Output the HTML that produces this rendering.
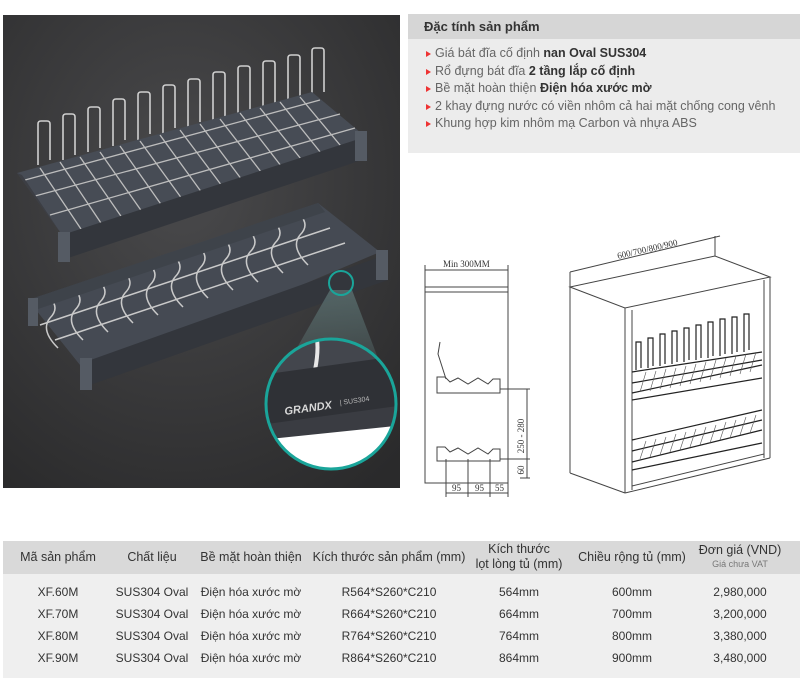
<!DOCTYPE html>
<html><head><meta charset="utf-8"><style>
body{margin:0;width:800px;height:680px;background:#fff;position:relative;overflow:hidden;font-family:"Liberation Sans",sans-serif;color:#333}
.abs{position:absolute}
.feat{left:408px;top:14px;width:392px;height:139px;background:#ececec}
.feat .h{height:25px;background:#d6d6d6;font-weight:bold;font-size:13px;line-height:25px;padding-left:16px;color:#333}
.feat ul{list-style:none;margin:6px 0 0 0;padding:0 0 0 27px;font-size:12.5px;color:#666;line-height:17.5px}
.feat li{position:relative;white-space:nowrap}
.feat li:before{content:"";position:absolute;left:-9px;top:6px;border-left:5px solid #e33;border-top:3px solid transparent;border-bottom:3px solid transparent}
.feat b{color:#333}
.th{left:3px;top:541px;width:797px;height:33px;background:#d9d9d9}
.tb{left:3px;top:574px;width:797px;height:104px;background:#efefef}
.c{position:absolute;transform:translateX(-50%);white-space:nowrap;font-size:12px;color:#333;text-align:center}
.hd{font-size:12.5px;color:#333}
</style></head><body>

<svg class="abs" style="left:3px;top:15px" width="397" height="473" viewBox="3 15 397 473">
<defs>
<radialGradient id="bg" cx="0.45" cy="0.35" r="0.8"><stop offset="0" stop-color="#4a4a4c"/><stop offset="1" stop-color="#2a2a2b"/></radialGradient>
<linearGradient id="beam" x1="0" y1="0" x2="0" y2="1"><stop offset="0" stop-color="#5f7878" stop-opacity="0.7"/><stop offset="1" stop-color="#5f7878" stop-opacity="0.1"/></linearGradient>
<clipPath id="cc"><circle cx="331" cy="404" r="65"/></clipPath>
</defs>
<rect x="3" y="15" width="397" height="473" fill="url(#bg)"/>
<!-- top rack -->
<g stroke="#cfcfcf" stroke-width="1.6" fill="none" stroke-linejoin="round">
<path d="M38 165 V124 q0 -3 3 -3 h6 q3 0 3 3 V160 M63 160 V117 q0 -3 3 -3 h6 q3 0 3 3 V155 M88 152 V110 q0 -3 3 -3 h6 q3 0 3 3 V148 M113 146 V102 q0 -3 3 -3 h6 q3 0 3 3 V140 M138 140 V95 q0 -3 3 -3 h6 q3 0 3 3 V134 M163 134 V88 q0 -3 3 -3 h6 q3 0 3 3 V128 M188 128 V82 q0 -3 3 -3 h6 q3 0 3 3 V122 M213 122 V75 q0 -3 3 -3 h6 q3 0 3 3 V116 M238 116 V69 q0 -3 3 -3 h6 q3 0 3 3 V110 M263 110 V64 q0 -3 3 -3 h6 q3 0 3 3 V104 M288 104 V58 q0 -3 3 -3 h6 q3 0 3 3 V98 M312 98 V51 q0 -3 3 -3 h6 q3 0 3 3 V92"/>
</g>
<polygon points="17,173 312,92 367,138 68,243" fill="#474c55"/>
<g stroke="#bdbdbd" stroke-width="1.3">
<path d="M40 168 L85 235 M60 162 L105 229 M80 157 L125 222 M100 152 L145 216 M120 146 L165 210 M140 141 L185 203 M160 135 L205 197 M180 130 L225 190 M200 124 L245 184 M220 119 L265 177 M240 113 L285 171 M260 108 L305 164 M280 102 L325 158 M300 97 L345 151"/>
<path d="M25 180 L320 100 M35 196 L340 114 M50 215 L355 128"/>
</g>
<polygon points="17,173 22,175 72,250 68,243" fill="#3c3e44"/>
<polygon points="62,235 365,137 368,158 68,258" fill="#33363c"/>
<rect x="355" y="131" width="12" height="30" fill="#555b64"/>
<rect x="58" y="232" width="12" height="30" fill="#555b64"/>
<!-- bottom rack -->
<polygon points="28,300 318,203 380,252 88,375" fill="#454a53"/>
<g stroke="#c9c9c9" stroke-width="1.5" fill="none">
<path d="M50 298 q10 10 0 20 q-10 12 8 30 M75 290 q10 10 0 20 q-10 12 8 30 M100 282 q10 10 0 20 q-10 12 8 30 M125 273 q10 10 0 20 q-10 12 8 30 M150 265 q10 10 0 20 q-10 12 8 30 M175 257 q10 10 0 20 q-10 12 8 30 M200 248 q10 10 0 20 q-10 12 8 30 M225 240 q10 10 0 20 q-10 12 8 30 M250 232 q10 10 0 20 q-10 12 8 30 M275 223 q10 10 0 20 q-10 12 8 30 M300 215 q10 10 0 20 q-10 12 8 30"/>
<path d="M40 325 L330 228 M55 340 L345 243"/>
</g>
<polygon points="28,300 318,203 325,212 35,310" fill="#3e434a"/>
<polygon points="85,362 385,255 388,280 90,385" fill="#33363c"/>
<rect x="376" y="250" width="12" height="30" fill="#555b64"/>
<rect x="80" y="358" width="12" height="32" fill="#555b64"/>
<rect x="28" y="298" width="10" height="28" fill="#555b64"/>
<!-- beam -->
<polygon points="330,290 352,290 392,395 270,395" fill="url(#beam)"/>
<circle cx="341" cy="283" r="12" fill="none" stroke="#1aa59a" stroke-width="2"/>
<g clip-path="url(#cc)">
<rect x="260" y="335" width="145" height="135" fill="#3a3c42"/>
<polygon points="260,345 405,335 405,380 260,405" fill="#43464d"/>
<path d="M280 360 q8 -20 4 -30 M315 370 q5 -25 0 -40 M375 355 q4 -20 -2 -30" stroke="#e8e8e8" stroke-width="4" fill="none"/>
<polygon points="260,375 405,355 405,405 260,425" fill="#2f3136"/>
<polygon points="260,440 405,425 405,470 260,470" fill="#fff"/>
<text x="285" y="415" fill="#d8d8d8" font-size="11" font-style="italic" font-weight="bold" transform="rotate(-8 285 415)">GRANDX</text>
<text x="340" y="405" fill="#bbb" font-size="7" transform="rotate(-8 340 405)">| SUS304</text>
</g>
<circle cx="331" cy="404" r="65" fill="none" stroke="#1aa59a" stroke-width="3"/>
</svg>

<div class="abs feat"><div class="h">Đặc tính sản phẩm</div>
<ul>
<li>Giá bát đĩa cố định <b>nan Oval SUS304</b></li>
<li>Rổ đựng bát đĩa <b>2 tầng lắp cố định</b></li>
<li>Bề mặt hoàn thiện <b>Điện hóa xước mờ</b></li>
<li>2 khay đựng nước có viền nhôm cả hai mặt chống cong vênh</li>
<li>Khung hợp kim nhôm mạ Carbon và nhựa ABS</li>
</ul></div>

<svg class="abs" style="left:0;top:0" width="800" height="520" viewBox="0 0 800 520" font-family="Liberation Serif, serif">
<g stroke="#444" stroke-width="1" fill="none">
<rect x="425" y="287" width="83" height="196"/>
<line x1="425" y1="292" x2="508" y2="292"/>
<line x1="425" y1="265" x2="425" y2="287"/><line x1="508" y1="265" x2="508" y2="287"/>
<line x1="425" y1="270" x2="508" y2="270"/>
<path d="M437 377 h8 l5 5 l8 -4 l10 6 l10 -6 l10 6 l5 -5 h7 v14 h-63 z"/>
<path d="M446 379 l-8 -25 l2 -12"/>
<path d="M437 447 h8 l5 5 l8 -4 l10 6 l10 -6 l10 6 l5 -5 h7 v12 h-63 z"/>
<line x1="500" y1="389" x2="530" y2="389"/><line x1="500" y1="459" x2="530" y2="459"/>
<line x1="527" y1="389" x2="527" y2="478"/><line x1="520" y1="478" x2="530" y2="478"/>
<line x1="446" y1="459" x2="446" y2="497"/><line x1="468" y1="459" x2="468" y2="497"/><line x1="490" y1="459" x2="490" y2="497"/><line x1="508" y1="483" x2="508" y2="497"/>
<line x1="446" y1="493" x2="508" y2="493"/>
<polygon points="570,287 625,308 770,277 715,256"/>
<line x1="570" y1="272" x2="570" y2="287"/><line x1="715" y1="236" x2="715" y2="256"/>
<line x1="570" y1="272" x2="720" y2="236"/>
<line x1="570" y1="287" x2="570" y2="473"/>
<line x1="625" y1="308" x2="625" y2="493"/>
<line x1="632" y1="310" x2="632" y2="490"/>
<line x1="770" y1="277" x2="770" y2="458"/>
<line x1="764" y1="280" x2="764" y2="458"/>
<line x1="570" y1="473" x2="625" y2="493"/>
<line x1="625" y1="493" x2="770" y2="458"/>
<line x1="632" y1="486" x2="764" y2="454"/>
</g>
<g stroke="#222" stroke-width="1.2" fill="none">
<path d="M632 372 L762 352 M632 393 L762 365 M632 400 L762 378 M632 383 L762 360"/>
<path d="M636 370 v-28 h5 v26 M648 368 v-30 h5 v28 M660 366 v-32 h5 v30 M672 364 v-33 h5 v31 M684 362 v-34 h5 v32 M696 360 v-35 h5 v33 M708 358 v-36 h5 v34 M720 356 v-37 h5 v35 M732 354 v-37 h5 v35 M744 352 v-38 h5 v36"/>
<path d="M632 440 L762 410 M632 462 L762 430 M632 470 L762 443 M632 451 L762 420"/>
</g>
<g stroke="#555" stroke-width="0.6">
<path d="M640 392 l6 -20 M650 391 l6 -20 M660 389 l6 -20 M670 388 l6 -20 M680 386 l6 -20 M690 384 l6 -20 M700 382 l6 -20 M710 380 l6 -20 M720 378 l6 -20 M730 376 l6 -20 M740 374 l6 -20 M750 372 l6 -20"/>
<path d="M640 459 l6 -18 M650 457 l6 -18 M660 455 l6 -18 M670 452 l6 -18 M680 450 l6 -18 M690 447 l6 -18 M700 445 l6 -18 M710 443 l6 -18 M720 440 l6 -18 M730 438 l6 -18 M740 435 l6 -18 M750 433 l6 -18"/>
</g>
<g fill="#333" font-size="9">
<text x="443" y="267">Min 300MM</text>
<text x="648" y="252" transform="rotate(-13 648 252)" text-anchor="middle">600/700/800/900</text>
<text x="0" y="0" transform="translate(524 436) rotate(-90)" text-anchor="middle">250 - 280</text>
<text x="0" y="0" transform="translate(524 470) rotate(-90)" text-anchor="middle">60</text>
<text x="452" y="491">95</text><text x="475" y="491">95</text><text x="495" y="491">55</text>
</g>
</svg>

<div class="abs th"></div><div class="abs tb"></div>
<div class="c hd" style="left:58px;top:550px">Mã sản phẩm</div>
<div class="c hd" style="left:152px;top:550px">Chất liệu</div>
<div class="c hd" style="left:251px;top:550px">Bề mặt hoàn thiện</div>
<div class="c hd" style="left:389px;top:550px">Kích thước sản phẩm (mm)</div>
<div class="c hd" style="left:519px;top:542px;line-height:15px">Kích thước<br>lọt lòng tủ (mm)</div>
<div class="c hd" style="left:632px;top:550px">Chiều rộng tủ (mm)</div>
<div class="c hd" style="left:740px;top:543px">Đơn giá (VND)</div>
<div class="c" style="left:740px;top:559px;font-size:9px;color:#777">Giá chưa VAT</div>

<div class="c" style="left:58px;top:585px">XF.60M</div><div class="c" style="left:152px;top:585px">SUS304 Oval</div><div class="c" style="left:251px;top:585px">Điện hóa xước mờ</div><div class="c" style="left:389px;top:585px">R564*S260*C210</div><div class="c" style="left:519px;top:585px">564mm</div><div class="c" style="left:632px;top:585px">600mm</div><div class="c" style="left:740px;top:585px">2,980,000</div>
<div class="c" style="left:58px;top:607px">XF.70M</div><div class="c" style="left:152px;top:607px">SUS304 Oval</div><div class="c" style="left:251px;top:607px">Điện hóa xước mờ</div><div class="c" style="left:389px;top:607px">R664*S260*C210</div><div class="c" style="left:519px;top:607px">664mm</div><div class="c" style="left:632px;top:607px">700mm</div><div class="c" style="left:740px;top:607px">3,200,000</div>
<div class="c" style="left:58px;top:629px">XF.80M</div><div class="c" style="left:152px;top:629px">SUS304 Oval</div><div class="c" style="left:251px;top:629px">Điện hóa xước mờ</div><div class="c" style="left:389px;top:629px">R764*S260*C210</div><div class="c" style="left:519px;top:629px">764mm</div><div class="c" style="left:632px;top:629px">800mm</div><div class="c" style="left:740px;top:629px">3,380,000</div>
<div class="c" style="left:58px;top:651px">XF.90M</div><div class="c" style="left:152px;top:651px">SUS304 Oval</div><div class="c" style="left:251px;top:651px">Điện hóa xước mờ</div><div class="c" style="left:389px;top:651px">R864*S260*C210</div><div class="c" style="left:519px;top:651px">864mm</div><div class="c" style="left:632px;top:651px">900mm</div><div class="c" style="left:740px;top:651px">3,480,000</div>
</body></html>
